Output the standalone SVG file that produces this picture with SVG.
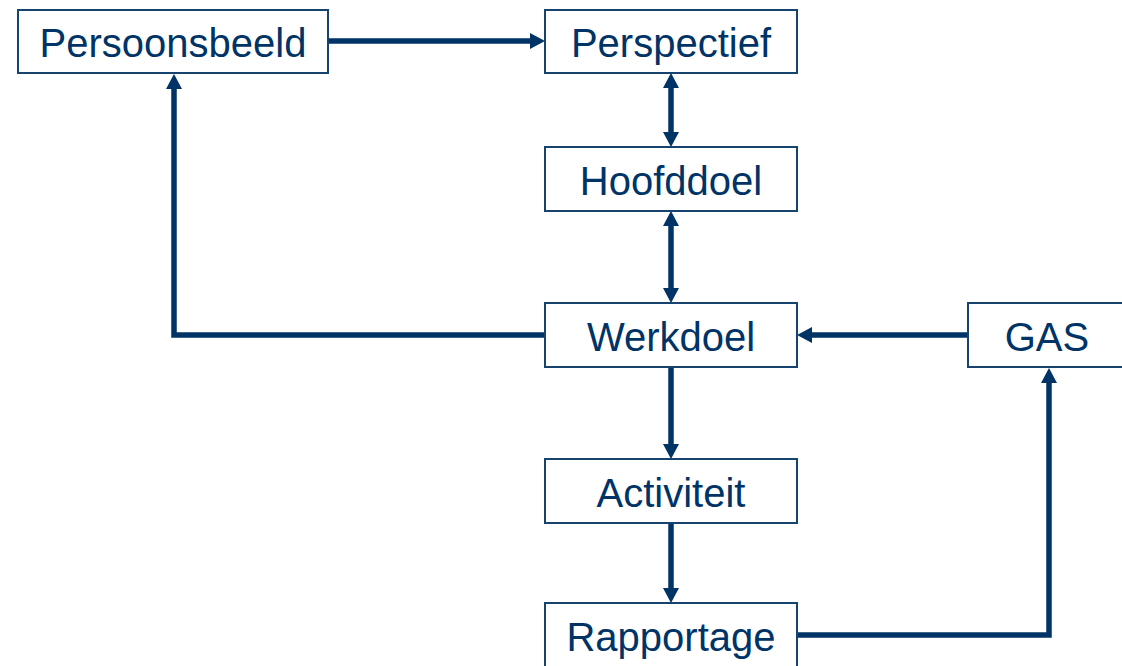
<svg xmlns="http://www.w3.org/2000/svg" width="1122" height="666" viewBox="0 0 1122 666">
<style>
.box{fill:#fff;stroke:#17436f;stroke-width:2}
.lbl{font-family:"Liberation Sans",Arial,sans-serif;font-size:40px;fill:#003366;text-anchor:middle}
.con{fill:none;stroke:#003366;stroke-width:5.5}
</style>
<defs>
<marker id="ah" viewBox="0 -8 15 16" markerWidth="15" markerHeight="16" refX="0" refY="0" markerUnits="userSpaceOnUse" orient="auto-start-reverse">
<path d="M0,-8 L15,0 L0,8 Z" fill="#003366"/>
</marker>
</defs>
<rect width="1122" height="666" fill="#fff"/>
<g id="connectors">
<line class="con" x1="329" y1="41" x2="530" y2="41" marker-end="url(#ah)"/>
<line class="con" x1="671" y1="88" x2="671" y2="132" marker-start="url(#ah)" marker-end="url(#ah)"/>
<line class="con" x1="671" y1="226" x2="671" y2="288" marker-start="url(#ah)" marker-end="url(#ah)"/>
<line class="con" x1="671" y1="367" x2="671" y2="444" marker-end="url(#ah)"/>
<line class="con" x1="671" y1="523" x2="671" y2="588" marker-end="url(#ah)"/>
<line class="con" x1="968" y1="335" x2="812" y2="335" marker-end="url(#ah)"/>
<polyline class="con" points="545,335 174,335 174,89" marker-end="url(#ah)"/>
<polyline class="con" points="796,635 1049,635 1049,383" marker-end="url(#ah)"/>
</g>
<g id="persoonsbeeld"><rect class="box" x="18" y="10" width="310" height="63"/><text class="lbl" x="173" y="57">Persoonsbeeld</text></g>
<g id="perspectief"><rect class="box" x="545" y="10" width="252" height="63"/><text class="lbl" x="671" y="57">Perspectief</text></g>
<g id="hoofddoel"><rect class="box" x="545" y="147" width="252" height="64"/><text class="lbl" x="671" y="195">Hoofddoel</text></g>
<g id="werkdoel"><rect class="box" x="545" y="303" width="252" height="64"/><text class="lbl" x="671" y="351">Werkdoel</text></g>
<g id="gas"><rect class="box" x="968" y="303" width="160" height="64"/><text class="lbl" x="1047" y="351">GAS</text></g>
<g id="activiteit"><rect class="box" x="545" y="459" width="252" height="64"/><text class="lbl" x="671" y="507">Activiteit</text></g>
<g id="rapportage"><rect class="box" x="545" y="603" width="252" height="70"/><text class="lbl" x="671" y="651">Rapportage</text></g>
</svg>
